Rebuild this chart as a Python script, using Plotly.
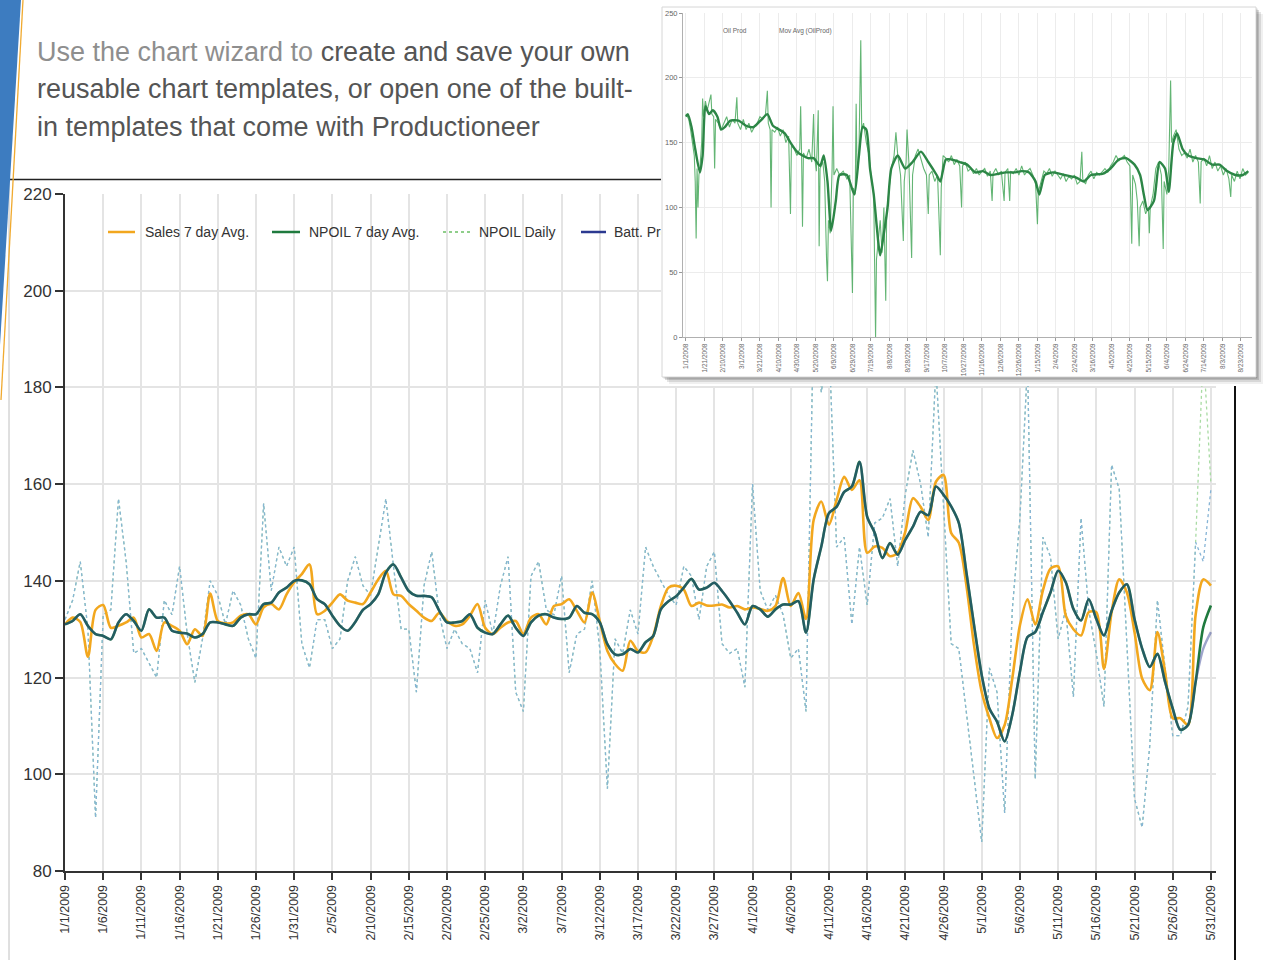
import pandas as pd
import plotly.graph_objects as go

W, H = 1266, 960


def px(x):
    return x / W


def py(y):
    return 1 - y / H


# ---------------- main chart data (1/1/2009 - 5/31/2009, daily) ----------------
main_start = "2009-01-01"

sales_7day = [
    131, 132.4, 131.5, 124.3, 134, 135, 130.3, 130.7, 131.4, 132.4,
    128.3, 129, 125.5, 131.4, 130.7, 129.7, 126.9, 130, 128.6, 137.4,
    131.7, 131.2, 131.4, 132.8, 133.1, 131, 134.5, 135.2, 134.1, 137.2,
    139.7, 141.4, 143.4, 133.1, 133.8, 135.5, 137.2, 135.9, 135.5, 135.2,
    137.6, 140.3, 142.1, 137.2, 136.9, 135.2, 133.8, 132.4, 131.7, 133.4,
    131.7, 130.7, 131, 132.8, 135.2, 130.3, 129, 130.3, 131.4, 131.7,
    129, 132.4, 133.1, 131, 134.8, 135.2, 136.2, 133.8, 131.4, 137.6,
    131.7, 125.5, 122.8, 121.4, 127.6, 125.5, 125.2, 128.6, 134.8, 138.6,
    139, 138.2, 134.8, 135.5, 134.9, 134.9, 135.1, 134.5, 134.8, 134.1,
    134.5, 134.2, 133.8, 134.8, 140.6, 134.8, 137.5, 132.1, 152.6, 156.4,
    151.6, 156.7, 161.5, 158.8, 160.8, 145.8, 147.1, 146.8, 145.1, 145.8,
    150.2, 157.1, 155.3, 152.6, 160.5, 161.9, 149.9, 147.9, 139, 126.6,
    117, 111.6, 107.5, 110.2, 119.8, 130.8, 136.2, 131, 138, 142.5,
    143, 132.8, 130, 128.7, 133.5, 133.5, 121.8, 133.5, 140.3, 137.6,
    129.4, 119.8, 117.4, 129.4, 121.2, 111.6, 111.6, 110.2, 133, 140.3,
    139,
]

npoil_7day = [
    131, 131.7, 133.1, 130.7, 129, 128.6, 127.9, 131.4, 133.1, 131.7,
    129.7, 134.1, 132.4, 132.4, 129.7, 129.3, 129.1, 128.3, 129, 131.4,
    131.4, 131, 130.7, 132.4, 133.1, 133.1, 135.2, 135.5, 137.6, 138.6,
    140, 140.1, 139.3, 136.2, 135.2, 132.8, 130.7, 129.7, 131.5, 134,
    135.2, 137.2, 141.7, 143.4, 140.7, 137.9, 136.9, 136.9, 136.6, 133.8,
    131.4, 131.4, 131.7, 133.1, 130.3, 129.3, 129, 131, 132.8, 130.3,
    128.6, 131.4, 132.8, 133.1, 132.4, 132.1, 132.4, 134.8, 133.4, 133.1,
    131.4, 126.9, 124.8, 124.8, 125.9, 125.2, 127.3, 128.6, 134.1, 135.8,
    136.8, 138.6, 140.4, 138.2, 138.6, 139.6, 137.9, 135.8, 133.4, 131,
    134.8, 134.1, 132.6, 134.1, 135.1, 135.1, 135.8, 129.3, 140.3, 147.1,
    154, 155.3, 158.4, 159.5, 164.6, 153.3, 149.9, 144.7, 147.8, 145.4,
    148.5, 151.2, 154.3, 153.6, 159.5, 157.8, 155.4, 152, 141.7, 130.8,
    120.5, 113.6, 110.9, 106.8, 112.3, 121.2, 128.4, 129.4, 133.5, 137.6,
    142.1, 139.7, 134.2, 131.8, 136.2, 132.1, 128.7, 133.8, 137.6, 139.3,
    132.1, 126, 122.2, 124.9, 119.1, 113.6, 109.2, 110.2, 119.1, 130.4,
    134.9,
]

# Batt. Prod 7 day avg runs under the NPOIL line and only separates at the end
batt_7day = npoil_7day[:149] + [126.0, 129.4]

batt_daily = [
    132, 136, 144, 130, 91, 133, 134, 157, 144, 125,
    126, 123, 120, 136, 133, 143, 129, 119, 128, 140,
    137, 131, 138, 135, 128, 124, 156, 138, 147, 143,
    147, 127, 122, 132, 132, 126, 128, 140, 145, 139,
    137, 147, 157, 143, 130, 130, 117, 139, 146, 133,
    126, 130, 127, 126, 121, 136, 129, 139, 145, 117,
    113, 141, 144, 134, 133, 141, 121, 129, 130, 140,
    126, 97, 128, 125, 134, 129, 147, 143, 140, 137,
    135, 143, 141, 132, 143, 146, 127, 125, 126, 118,
    160, 138, 134, 137, 133, 124, 126, 113, 195, 179,
    190, 147, 149, 131, 147, 135, 152, 153, 157, 143,
    158, 167, 160, 149, 184, 155, 127, 126, 113, 100,
    86, 122, 117, 92, 134, 153, 185, 99, 149, 145,
    128, 134, 116, 153, 134, 125, 114, 164, 159, 127,
    95, 89, 106, 136, 122, 108, 108, 114, 148, 144,
    159,
]

# NPOIL daily is hidden under the blue daily line except for the last days
npoil_daily = batt_daily[:149] + [188, 160]

main_dates = pd.date_range(main_start, periods=len(sales_7day), freq="D")
main_y_ticks = [80, 100, 120, 140, 160, 180, 200, 220]

legend_names = ["Sales 7 day Avg.", "NPOIL 7 day Avg.", "NPOIL Daily", "Batt. Prod"]

# ---------------- inset chart data (1/1/2008 - 8/2009) ----------------
inset_start = pd.Timestamp("2008-01-01")

oil_prod_points = [
    (0, 172), (3, 168), (5, 160), (7, 150), (9, 140), (10, 120), (11, 76), (12, 130),
    (13, 100), (14, 125), (15, 130), (17, 150), (18, 184), (19, 170), (21, 182), (23, 175),
    (25, 180), (27, 187), (28, 172), (30, 170), (31, 130), (32, 168), (35, 165), (38, 160),
    (41, 165), (44, 170), (47, 162), (50, 168), (53, 165), (55, 185), (56, 165), (59, 160),
    (62, 168), (65, 160), (68, 165), (71, 158), (74, 162), (77, 165), (80, 170), (83, 168),
    (86, 172), (88, 190), (89, 165), (91, 160), (92, 100), (93, 160), (96, 158), (99, 162),
    (102, 155), (105, 160), (108, 150), (111, 155), (113, 95), (114, 148), (117, 145), (120, 140),
    (123, 145), (124, 178), (125, 140), (126, 85), (127, 142), (130, 138), (133, 145), (136, 135),
    (138, 172), (139, 140), (141, 128), (143, 175), (144, 70), (145, 130), (148, 135), (150, 120),
    (152, 60), (153, 43), (154, 90), (156, 80), (158, 130), (159, 178), (160, 125), (163, 130),
    (166, 125), (170, 128), (174, 122), (177, 125), (180, 34), (181, 115), (183, 110), (184, 180),
    (185, 125), (187, 140), (189, 229), (190, 160), (192, 165), (195, 150), (198, 140), (200, 125),
    (203, 110), (205, 0), (206, 60), (208, 75), (210, 90), (212, 65), (214, 100), (216, 28),
    (217, 95), (219, 110), (222, 130), (225, 140), (227, 158), (229, 140), (232, 125), (235, 74),
    (236, 120), (238, 135), (239, 160), (241, 135), (244, 61), (245, 125), (248, 140), (251, 145),
    (254, 138), (257, 130), (260, 125), (262, 95), (263, 125), (266, 128), (269, 120), (272, 125),
    (275, 63), (276, 115), (278, 140), (281, 138), (284, 135), (287, 140), (290, 133), (293, 137),
    (296, 132), (298, 100), (299, 132), (302, 135), (305, 128), (308, 130), (311, 126), (314, 130),
    (317, 125), (320, 128), (323, 130), (326, 124), (329, 128), (331, 105), (332, 126), (335, 130),
    (338, 125), (341, 128), (344, 105), (345, 127), (348, 130), (350, 105), (351, 128), (354, 126),
    (357, 130), (360, 125), (363, 132), (366, 125), (369, 128), (372, 130), (375, 125), (378, 118),
    (380, 87), (381, 112), (384, 120), (387, 128), (390, 126), (393, 130), (396, 124), (399, 128),
    (402, 125), (405, 122), (408, 126), (411, 120), (414, 124), (417, 122), (420, 125), (423, 118),
    (426, 120), (428, 143), (429, 122), (432, 118), (435, 125), (438, 128), (441, 122), (444, 127),
    (447, 125), (450, 128), (453, 130), (456, 127), (459, 132), (462, 135), (465, 140), (468, 136),
    (471, 138), (474, 140), (477, 135), (480, 132), (482, 72), (483, 125), (486, 118), (488, 105),
    (490, 70), (491, 100), (494, 105), (497, 95), (500, 100), (501, 80), (502, 100), (505, 110),
    (508, 130), (511, 135), (514, 125), (516, 68), (517, 120), (520, 110), (522, 130), (524, 198),
    (525, 150), (527, 155), (530, 160), (533, 145), (536, 140), (539, 142), (542, 138), (545, 145),
    (548, 135), (551, 140), (554, 135), (556, 103), (557, 135), (560, 138), (563, 132), (566, 140),
    (569, 130), (572, 135), (575, 128), (578, 132), (581, 125), (584, 130), (587, 122), (589, 108),
    (590, 125), (593, 120), (596, 128), (599, 122), (602, 130), (605, 125), (608, 127),
]

mov_avg_points = [
    (0, 170), (2, 172), (6, 162), (10, 145), (15, 127), (18, 140), (21, 178), (25, 172),
    (29, 175), (34, 170), (38, 160), (42, 162), (48, 167), (57, 167), (65, 163), (73, 162),
    (82, 168), (88, 172), (94, 163), (101, 160), (107, 157), (113, 150), (120, 143), (126, 140),
    (132, 138), (138, 138), (145, 132), (149, 140), (153, 120), (157, 82), (162, 105), (166, 125),
    (174, 125), (182, 110), (187, 140), (191, 162), (195, 160), (199, 130), (203, 110), (210, 63),
    (214, 80), (218, 100), (222, 130), (229, 140), (237, 130), (245, 135), (254, 143), (262, 135),
    (271, 125), (275, 120), (281, 137), (287, 137), (296, 135), (304, 133), (313, 127), (321, 128),
    (329, 125), (338, 126), (346, 127), (355, 127), (363, 128), (371, 127), (378, 120), (382, 110),
    (388, 125), (397, 127), (409, 125), (422, 123), (430, 120), (438, 125), (451, 126), (459, 130),
    (468, 137), (476, 138), (485, 133), (491, 125), (495, 110), (499, 98), (506, 105), (512, 135),
    (518, 130), (522, 112), (527, 150), (531, 157), (537, 145), (543, 140), (552, 138), (560, 137),
    (569, 133), (577, 133), (585, 128), (594, 125), (602, 125), (608, 128),
]

oil_days, oil_prod = zip(*oil_prod_points)
ma_days, mov_avg = zip(*mov_avg_points)
oil_dates = inset_start + pd.to_timedelta(list(oil_days), unit="D")
ma_dates = inset_start + pd.to_timedelta(list(ma_days), unit="D")
inset_y_ticks = [0, 50, 100, 150, 200, 250]
inset_legend = ["Oil Prod", "Mov Avg (OilProd)"]

# ---------------- colours ----------------
C_SALES = "#f2a71e"
C_NPOIL = "#1f7a3e"
C_BATT = "#2b3990"
C_NPOIL_D = "#a9dba4"
C_BATT_D = "#86b4d6"
C_OIL = "rgba(72,168,92,0.85)"
C_MA = "#2c8646"
FONT = "Liberation Sans, Arial, sans-serif"
DAY_MS = 86400000

fig = go.Figure()

# main chart traces
fig.add_trace(go.Scatter(x=main_dates, y=npoil_daily, name=legend_names[2], mode="lines",
                         line=dict(color=C_NPOIL_D, width=1.3, dash="dot"), showlegend=False))
fig.add_trace(go.Scatter(x=main_dates, y=batt_daily, name="Batt. Prod Daily", mode="lines",
                         line=dict(color=C_BATT_D, width=1.3, dash="dot"), showlegend=False))
fig.add_trace(go.Scatter(x=main_dates, y=sales_7day, name=legend_names[0], mode="lines",
                         line=dict(color=C_SALES, width=2.6, shape="spline", smoothing=0.8),
                         showlegend=False))
fig.add_trace(go.Scatter(x=main_dates, y=npoil_7day, name=legend_names[1], mode="lines",
                         line=dict(color=C_NPOIL, width=2.6, shape="spline", smoothing=0.8),
                         showlegend=False))
fig.add_trace(go.Scatter(x=main_dates, y=batt_7day, name=legend_names[3], mode="lines",
                         line=dict(color=C_BATT, width=2.4, shape="spline", smoothing=0.8),
                         opacity=0.45, showlegend=False))

# card subplot (white panel that hides the main chart under the inset)
fig.add_trace(go.Scatter(x=[], y=[], xaxis="x2", yaxis="y2", showlegend=False, hoverinfo="skip"))

# inset chart traces
fig.add_trace(go.Scatter(x=oil_dates, y=oil_prod, name=inset_legend[0], mode="lines",
                         xaxis="x3", yaxis="y3", line=dict(color=C_OIL, width=1.1),
                         showlegend=False))
fig.add_trace(go.Scatter(x=ma_dates, y=mov_avg, name=inset_legend[1], mode="lines",
                         xaxis="x3", yaxis="y3",
                         line=dict(color=C_MA, width=2.4, shape="spline", smoothing=0.6),
                         showlegend=False))

shapes = []
annotations = []

# slide decoration on the left edge
shapes.append(dict(type="path", xref="paper", yref="paper", layer="above",
                   path=f"M 0 {py(0)} L {px(21)} {py(0)} L 0 {py(345)} Z",
                   fillcolor="#3d7cc0", line=dict(width=0)))
shapes.append(dict(type="line", xref="paper", yref="paper", layer="above",
                   x0=px(23), y0=py(0), x1=px(1), y1=py(400),
                   line=dict(color="#f0aa30", width=1.3)))

# frame of the main chart screenshot
shapes.append(dict(type="line", xref="paper", yref="paper", layer="below",
                   x0=px(8), y0=py(179.5), x1=px(700), y1=py(179.5),
                   line=dict(color="#222222", width=1.5)))
shapes.append(dict(type="line", xref="paper", yref="paper", layer="below",
                   x0=px(1235), y0=py(179), x1=px(1235), y1=py(960),
                   line=dict(color="#111111", width=2)))
shapes.append(dict(type="line", xref="paper", yref="paper", layer="below",
                   x0=px(9), y0=py(180), x1=px(9), y1=py(960),
                   line=dict(color="#c0c0c0", width=1)))

# main legend (drawn by hand so that the last entry is cut by the inset)
leg_y = 232
leg_items = [
    (108, 135, 144, C_SALES, "solid", legend_names[0], None),
    (272, 300, 308, C_NPOIL, "solid", legend_names[1], None),
    (443, 471, 478, "#8fce8a", "dot", legend_names[2], None),
    (581, 606, 613, C_BATT, "solid", legend_names[3], 47),
]
for x0, x1, xt, col, dash, name, wclip in leg_items:
    shapes.append(dict(type="line", xref="paper", yref="paper", layer="above",
                       x0=px(x0), x1=px(x1), y0=py(leg_y), y1=py(leg_y),
                       line=dict(color=col, width=2.5 if dash == "solid" else 1.8, dash=dash)))
    ann = dict(x=px(xt), y=py(leg_y), xref="paper", yref="paper", text=name,
               showarrow=False, xanchor="left", yanchor="middle", align="left",
               font=dict(family=FONT, size=14, color="#333333"), borderpad=0)
    if wclip:
        ann["width"] = wclip
    annotations.append(ann)

# slide text
TXT = "#555555"
LIGHT = "#8e8e8e"
lines = [
    (52, f"<span style='color:{LIGHT}'>Use the chart wizard to</span> create and save your own"),
    (89, "reusable chart templates, or open one of the built-"),
    (127, "in templates that come with Productioneer"),
]
for yy, t in lines:
    annotations.append(dict(x=px(35), y=py(yy), xref="paper", yref="paper", text=t,
                            showarrow=False, xanchor="left", yanchor="middle", align="left",
                            font=dict(family=FONT, size=27, color=TXT)))

# inset card with drop shadow (coordinates of the card axes are page pixels)
for off, alpha in [(7, 0.06), (5, 0.10), (3, 0.14), (1.5, 0.18)]:
    shapes.append(dict(type="rect", xref="x2", yref="y2", layer="below",
                       x0=662 + off, y0=7 + off, x1=1256 + off, y1=377 + off,
                       fillcolor=f"rgba(0,0,0,{alpha})", line=dict(width=0)))
shapes.append(dict(type="rect", xref="x2", yref="y2", layer="below",
                   x0=662, y0=7, x1=1256, y1=377,
                   fillcolor="white", line=dict(color="#d6d6d6", width=1)))

# inset legend
for x0, x1, xt, col, w, name in [(708, 718, 721, C_OIL, 1.6, inset_legend[0]),
                                 (760, 774, 777, C_MA, 2.2, inset_legend[1])]:
    shapes.append(dict(type="line", xref="x2", yref="y2", layer="below",
                       x0=x0, x1=x1, y0=31, y1=31, line=dict(color=col, width=w)))
    annotations.append(dict(x=xt, y=31, xref="x2", yref="y2", text=name, showarrow=False,
                            xanchor="left", yanchor="middle",
                            font=dict(family=FONT, size=6.5, color="#666666")))

fig.update_layout(
    width=W, height=H, autosize=False,
    margin=dict(l=0, r=0, t=0, b=0, pad=0),
    paper_bgcolor="white", plot_bgcolor="white",
    template="none", showlegend=False, hovermode=False,
    font=dict(family=FONT, color="#333333"),
    shapes=shapes, annotations=annotations,
    xaxis=dict(
        type="date", domain=[px(65), px(1216)],
        range=[main_dates[0], main_dates[-1] + pd.Timedelta(hours=16)],
        tick0=main_start, dtick=5 * DAY_MS, tickformat="%-m/%-d/%Y", tickangle=-90,
        ticks="outside", ticklen=7, tickwidth=1.5, tickcolor="#333333",
        showline=True, linecolor="#333333", linewidth=2,
        showgrid=True, gridcolor="#e4e4e4", gridwidth=1.5, zeroline=False,
        tickfont=dict(family=FONT, size=12.5, color="#333333"),
        anchor="y", fixedrange=True,
    ),
    yaxis=dict(
        domain=[py(871), py(194)], range=[80, 220], tickvals=main_y_ticks,
        ticks="outside", ticklen=8, tickwidth=1.5, tickcolor="#333333",
        showline=True, linecolor="#333333", linewidth=2,
        showgrid=True, gridcolor="#e4e4e4", gridwidth=1.5, zeroline=False,
        tickfont=dict(family=FONT, size=17, color="#333333"),
        anchor="x", fixedrange=True,
    ),
    xaxis2=dict(domain=[px(661), 1], range=[661, 1266], visible=False, anchor="y2",
                fixedrange=True),
    yaxis2=dict(domain=[py(386), py(2)], range=[386, 2], visible=False, anchor="x2",
                fixedrange=True),
    xaxis3=dict(
        type="date", domain=[px(683), px(1252)],
        range=[inset_start - pd.Timedelta(hours=77), inset_start + pd.Timedelta(days=612)],
        tick0=inset_start, dtick=20 * DAY_MS, tickformat="%-m/%-d/%Y", tickangle=-90,
        ticks="outside", ticklen=3, tickcolor="#999999",
        showline=True, linecolor="#b0b0b0", linewidth=1,
        showgrid=True, gridcolor="#ececec", gridwidth=1, zeroline=False,
        tickfont=dict(family=FONT, size=6.5, color="#666666"),
        anchor="y3", fixedrange=True,
    ),
    yaxis3=dict(
        domain=[py(337), py(13)], range=[0, 250], tickvals=inset_y_ticks,
        ticks="outside", ticklen=3, tickcolor="#999999",
        showline=True, linecolor="#b0b0b0", linewidth=1,
        showgrid=True, gridcolor="#ececec", gridwidth=1, zeroline=False,
        tickfont=dict(family=FONT, size=7.5, color="#666666"),
        anchor="x3", fixedrange=True,
    ),
)

fig.write_html("out.html", config={"displayModeBar": False},
               post_script="document.body.style.margin='0';")
